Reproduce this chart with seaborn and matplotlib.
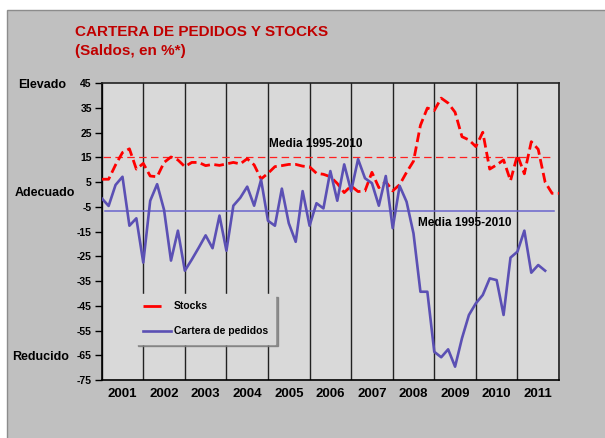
import numpy as np
import pandas as pd
import matplotlib
matplotlib.use("Agg")
import matplotlib.pyplot as plt
import matplotlib.font_manager as fm
from matplotlib.patches import Rectangle
import seaborn as sns

# ---------------- data ----------------
years = ['2001', '2002', '2003', '2004', '2005', '2006', '2007', '2008', '2009', '2010', '2011']
points_per_year = 6

stocks = [6.2, 6.2, 12, 17, 18.5, 10.3, 12.6, 7.5, 7.2, 13,
          15.2, 14, 11.3, 13, 13, 11.7, 12.2, 11.8, 12.4, 13,
          12.4, 14.5, 12, 6.3, 8.6, 11.3, 11.7, 12.2, 12.2, 11.5,
          11.2, 8.6, 8.2, 7.2, 4.5, 0.8, 3.5, 1.2, 1.5, 9,
          2.8, 5.2, 1.5, 4, 9, 13.5, 28, 35, 34, 39,
          37, 33.3, 23.4, 22.1, 19.4, 25.2, 10.3, 12, 14, 5.6,
          16, 8.4, 21.4, 18.3, 5, 0.5, 0.5]

cartera = [-1.5, -4.6, 3.9, 7.2, -12.6, -9.6, -27.5, -2.5, 4.2, -6.2,
           -26.7, -14.6, -30.8, -26.3, -21.5, -16.5, -21.7, -8.5, -22.7, -4.5,
           -1.3, 3.2, -4.5, 6, -10.6, -12.6, 2.4, -11.6, -19.1, 1.4,
           -12.6, -3.5, -5.6, 9.5, -2.5, 12.2, 1.4, 14.3, 6.6, 4.6,
           -4.5, 7.5, -13.6, 3.5, -2.9, -15.7, -39.3, -39.3, -63.6, -65.8,
           -62.6, -69.6, -58.1, -48.7, -44.0, -40.6, -33.9, -34.6, -48.7, -25.5,
           -23.1, -14.6, -31.6, -28.5, -30.8]

stocks_mean = 15
cartera_mean = -6.5

y_ticks = list(range(-75, 46, 10))
side_labels = ['Elevado', 'Adecuado', 'Reducido']
title_1 = 'CARTERA DE PEDIDOS Y STOCKS'
title_2 = '(Saldos, en %*)'
mean_label = 'Media 1995-2010'

df_s = pd.DataFrame({'t': np.arange(len(stocks)), 'v': stocks})
df_c = pd.DataFrame({'t': np.arange(len(cartera)), 'v': cartera})

# ---------------- fonts ----------------
names = {f.name for f in fm.fontManager.ttflist}
base = 'Liberation Sans' if 'Liberation Sans' in names else 'DejaVu Sans'
plt.rcParams['font.family'] = [base, 'DejaVu Sans']

# ---------------- figure ----------------
W, H = 605, 438
fig = plt.figure(figsize=(W / 100, H / 100), dpi=100)
fig.patch.set_facecolor('white')
bg = Rectangle((7 / W, -0.02), 1.0, 1 - 10 / H + 0.02,
               transform=fig.transFigure, facecolor='#C0C0C0',
               edgecolor='#8C8C8C', lw=1.0, zorder=-10)
fig.patches.append(bg)

ax = fig.add_axes([101.7 / W, 1 - 380 / H, (559 - 101.7) / W, (380 - 83.3) / H])
ax.set_zorder(1)
ax.set_facecolor('#D9D9D9')

n_total = len(years) * points_per_year
# mean lines
ax.axhline(stocks_mean, xmin=0.25 / n_total, xmax=65.3 / n_total, color='#FF2020',
           lw=0.9, linestyle=(0, (6, 3.5)), zorder=2)
ax.axhline(cartera_mean, xmin=0.5 / n_total, xmax=65.3 / n_total, color='#6A64CC',
           lw=1.1, zorder=2)

sns.lineplot(data=df_s, x='t', y='v', ax=ax, color='#FF0000', lw=2.0,
             linestyle=(0, (3.5, 1.6)), label='Stocks', zorder=3)
sns.lineplot(data=df_c, x='t', y='v', ax=ax, color='#5B50B4', lw=1.9,
             label='Cartera de pedidos', zorder=4)

ax.set_xlim(0, n_total)
ax.set_ylim(-75, 45)
ax.set_xlabel('')
ax.set_ylabel('')

# x axis: year boundaries (grid) + centred year labels
ax.set_xticks(np.arange(0, n_total + 1, points_per_year))
ax.set_xticklabels([])
ax.set_xticks(np.arange(points_per_year / 2, n_total, points_per_year), minor=True)
ax.set_xticklabels(years, minor=True, fontsize=9.5, fontweight='bold')
ax.tick_params(axis='x', which='both', length=0, pad=6)
ax.grid(axis='x', which='major', color='#222222', lw=1.0)
ax.grid(axis='y', visible=False)

ax.set_yticks(y_ticks)
ax.set_yticklabels([str(v) for v in y_ticks], fontsize=7.5, fontweight='bold')
ax.tick_params(axis='y', direction='out', length=4.7, width=1, pad=2.4)

for sp in ax.spines.values():
    sp.set_color('black')
    sp.set_linewidth(1.2)
ax.spines['top'].set_color('#222222')
ax.spines['right'].set_color('#222222')

# annotations
ax.text(24.1, 20.4, mean_label, fontsize=8.5, fontweight='bold', va='center', ha='left')
ax.text(45.7, -11.4, mean_label, fontsize=8.5, fontweight='bold', va='center', ha='left')

# legend
leg = ax.legend(loc='upper left', bbox_to_anchor=(0.074, 0.29), borderaxespad=0,
                frameon=True, fancybox=False, shadow={'color': '#7A7A7A', 'alpha': 0.8},
                facecolor='#D9D9D9', edgecolor='#D9D9D9', framealpha=1,
                prop={'weight': 'bold', 'size': 7.5},
                handlelength=2.7, handletextpad=0.3, labelspacing=1.45, borderpad=0.7)
leg.get_lines()[0].set_linestyle((0, (6.5, 10)))

# side labels
fig.text(18 / W, 1 - 85 / H, side_labels[0], fontsize=9, fontweight='bold', va='center', ha='left')
fig.text(15 / W, 1 - 193 / H, side_labels[1], fontsize=9, fontweight='bold', va='center', ha='left')
fig.text(12 / W, 1 - 357 / H, side_labels[2], fontsize=9, fontweight='bold', va='center', ha='left')

# title
fig.text(75 / W, 1 - 32 / H, title_1, fontsize=11, fontweight='bold', color='#C00000',
         va='center', ha='left')
fig.text(75 / W, 1 - 51 / H, title_2, fontsize=11, fontweight='bold', color='#C00000',
         va='center', ha='left')

fig.savefig('out.png', dpi=100)
